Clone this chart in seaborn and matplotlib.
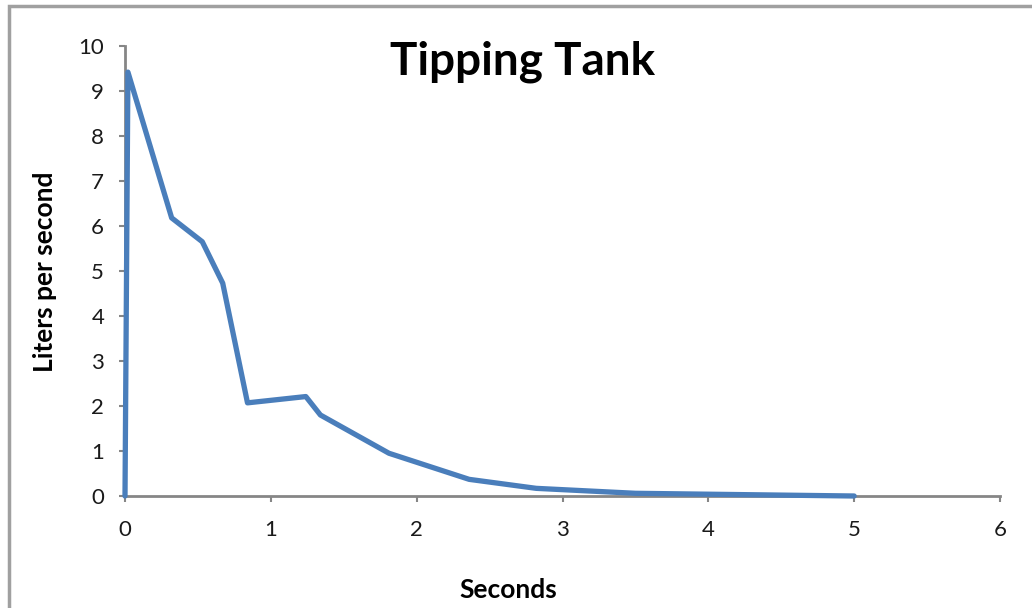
import pandas as pd
import seaborn as sns
import matplotlib.pyplot as plt
from matplotlib.patches import Rectangle

# values
seconds = [0.0, 0.02, 0.32, 0.53, 0.67, 0.84, 1.24, 1.34, 1.81, 2.36, 2.82, 3.5, 4.0, 5.0]
flow = [0.0, 9.42, 6.18, 5.65, 4.73, 2.07, 2.21, 1.8, 0.95, 0.37, 0.17, 0.06, 0.04, 0.0]
x_ticks = [0, 1, 2, 3, 4, 5, 6]
y_ticks = [0, 1, 2, 3, 4, 5, 6, 7, 8, 9, 10]

df = pd.DataFrame({"Seconds": seconds, "Liters per second": flow})

sns.set_style("white")
plt.rcParams['font.family'] = ['Lato', 'DejaVu Sans']

fig = plt.figure(figsize=(10.32, 6.08), dpi=100)
ax = fig.add_axes([125 / 1032, 1 - 496 / 608, 875 / 1032, 450 / 608])

sns.lineplot(data=df, x="Seconds", y="Liters per second", sort=False,
             color="#4A7EBB", linewidth=3.8, ax=ax)
for ln in ax.lines:
    ln.set_zorder(5)
    ln.set_clip_on(False)

ax.set_xlim(0, 6)
ax.set_ylim(0, 10)
ax.set_xticks(x_ticks)
ax.set_yticks(y_ticks)
ax.tick_params(axis='both', labelsize=16, colors="#868686", labelcolor="#1a1a1a",
               direction='out', length=4, width=1.5, bottom=True, left=True)
ax.tick_params(axis='x', pad=13)
ax.tick_params(axis='y', pad=11)
for side in ['top', 'right']:
    ax.spines[side].set_visible(False)
for side in ['left', 'bottom']:
    ax.spines[side].set_color("#868686")
    ax.spines[side].set_linewidth(2)
ax.set_xlabel("")
ax.set_ylabel("")

fig.text(523 / 1032, 1 - 62 / 608, "Tipping Tank", fontsize=33, fontweight='bold',
         color="black", ha='center', va='center')
fig.text(508 / 1032, 1 - 590 / 608, "Seconds", fontsize=19, fontweight='bold',
         color="black", ha='center', va='center')
fig.text(45 / 1032, 1 - 272 / 608, "Liters per second", fontsize=19, fontweight='bold',
         color="black", ha='center', va='center', rotation=90)

# outer chart border
fig.patches.append(Rectangle((9 / 1032, -0.1), 1.2, 1 - 6 / 608 + 0.1, transform=fig.transFigure,
                             fill=False, edgecolor="#A0A0A0", linewidth=2.5))

fig.savefig("out.png", dpi=100)
